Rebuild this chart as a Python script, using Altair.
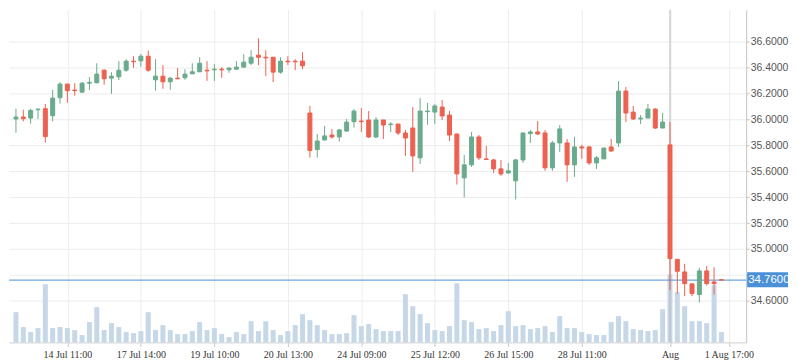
import altair as alt
import pandas as pd

# ---- data ----
opens = [36.003, 36.018, 36.010, 36.074, 36.082, 36.028, 36.167, 36.272, 36.226, 36.210,
         36.279, 36.282, 36.379, 36.318, 36.328, 36.379, 36.449, 36.451, 36.487, 36.305,
         36.333, 36.290, 36.318, 36.321, 36.351, 36.367, 36.379, 36.382, 36.387, 36.382,
         36.387, 36.403, 36.433, 36.495, 36.479, 36.479, 36.364, 36.449, 36.449, 36.449,
         36.049, 35.767, 35.841, 35.879, 35.864, 35.910, 35.982, 35.987, 35.995, 35.864,
         35.995, 35.959, 35.964, 35.895, 35.933, 35.703, 36.059, 36.056, 36.095, 36.033,
         35.887, 35.549, 35.649, 35.864, 35.695, 35.687, 35.618, 35.587, 35.526, 35.687,
         35.890, 35.903, 35.895, 35.626, 35.818, 35.818, 35.649, 35.787, 35.787, 35.664,
         35.695, 35.787, 35.818, 36.218, 36.056, 36.003, 36.010, 36.079, 35.933, 35.803,
         34.920, 34.823, 34.731, 34.649, 34.831, 34.746, 34.763]
highs = [36.082, 36.074, 36.082, 36.082, 36.118, 36.228, 36.287, 36.275, 36.279, 36.287,
         36.326, 36.433, 36.387, 36.364, 36.449, 36.464, 36.487, 36.503, 36.531, 36.464,
         36.418, 36.326, 36.395, 36.387, 36.433, 36.479, 36.449, 36.426, 36.403, 36.403,
         36.449, 36.503, 36.533, 36.626, 36.533, 36.482, 36.479, 36.487, 36.464, 36.518,
         36.103, 35.887, 35.949, 35.926, 35.926, 36.003, 36.079, 36.087, 36.064, 36.018,
         35.997, 35.979, 35.966, 35.918, 36.095, 36.164, 36.126, 36.118, 36.149, 36.064,
         35.889, 35.726, 35.903, 35.879, 35.795, 35.695, 35.687, 35.664, 35.695, 35.897,
         35.918, 35.987, 35.918, 35.833, 35.956, 35.849, 35.864, 35.803, 35.795, 35.718,
         35.779, 35.849, 36.295, 36.249, 36.103, 36.033, 36.118, 36.087, 36.049, 35.979,
         34.922, 34.885, 34.733, 34.854, 34.869, 34.859, 34.765]
lows = [35.897, 35.985, 35.967, 36.003, 35.821, 35.985, 36.121, 36.128, 36.182, 36.205,
        36.226, 36.279, 36.267, 36.197, 36.303, 36.367, 36.397, 36.405, 36.367, 36.221,
        36.236, 36.228, 36.313, 36.305, 36.351, 36.367, 36.297, 36.297, 36.321, 36.359,
        36.382, 36.397, 36.418, 36.418, 36.333, 36.287, 36.351, 36.418, 36.379, 36.387,
        35.705, 35.705, 35.836, 35.851, 35.828, 35.903, 35.936, 35.903, 35.856, 35.856,
        35.849, 35.903, 35.879, 35.718, 35.595, 35.656, 35.959, 35.964, 35.995, 35.833,
        35.497, 35.397, 35.633, 35.687, 35.690, 35.587, 35.564, 35.579, 35.382, 35.664,
        35.818, 35.879, 35.603, 35.603, 35.749, 35.518, 35.556, 35.695, 35.649, 35.618,
        35.695, 35.749, 35.787, 35.979, 35.995, 35.964, 36.010, 35.926, 35.933, 34.682,
        34.654, 34.636, 34.636, 34.587, 34.718, 34.649, 34.758]
closes = [36.018, 36.005, 36.069, 36.079, 35.867, 36.164, 36.272, 36.221, 36.221, 36.279,
          36.285, 36.349, 36.313, 36.333, 36.379, 36.449, 36.444, 36.487, 36.379, 36.333,
          36.290, 36.318, 36.313, 36.349, 36.367, 36.433, 36.374, 36.387, 36.382, 36.395,
          36.403, 36.441, 36.479, 36.479, 36.474, 36.364, 36.449, 36.444, 36.444, 36.413,
          35.759, 35.833, 35.872, 35.864, 35.918, 35.979, 36.064, 35.982, 35.864, 35.995,
          35.956, 35.964, 35.895, 35.856, 35.718, 36.064, 36.064, 36.103, 36.026, 35.879,
          35.579, 35.649, 35.864, 35.703, 35.690, 35.618, 35.579, 35.603, 35.687, 35.895,
          35.903, 35.887, 35.626, 35.818, 35.926, 35.649, 35.787, 35.779, 35.664, 35.703,
          35.779, 35.756, 36.218, 36.049, 36.003, 36.010, 36.079, 35.933, 35.979, 34.926,
          34.828, 34.733, 34.656, 34.831, 34.733, 34.733, 34.760]
volumes = [910, 460, 310, 430, 1750, 430, 460, 430, 370, 220,
           610, 1060, 370, 580, 460, 310, 280, 340, 910, 370,
           520, 370, 250, 250, 340, 610, 370, 430, 250, 160,
           310, 250, 640, 340, 640, 370, 220, 340, 520, 850,
           670, 520, 370, 250, 250, 280, 820, 490, 550, 400,
           340, 340, 340, 1450, 1090, 850, 580, 370, 340, 490,
           1780, 670, 610, 400, 430, 340, 520, 940, 490, 520,
           400, 430, 490, 310, 790, 430, 430, 310, 250, 220,
           220, 610, 790, 640, 400, 370, 340, 370, 1000, 2050,
           1510, 1090, 640, 640, 580, 1720, 310]

tick_positions = [7, 17, 27, 37, 47, 57, 67, 77, 89, 97]
tick_labels = ["14 Jul 11:00", "17 Jul 14:00", "19 Jul 10:00", "20 Jul 13:00",
               "24 Jul 09:00", "25 Jul 12:00", "26 Jul 15:00", "28 Jul 11:00",
               "Aug", "1 Aug 17:00"]
price_ticks = [34.6, 34.8, 35.0, 35.2, 35.4, 35.6, 35.8, 36.0, 36.2, 36.4, 36.6]
last_price = 34.76
marker_index = 89

GREEN = "#6aab8d"
RED = "#ec6150"
BLUE = "#4a90d9"

n = len(opens)
df = pd.DataFrame({
    "i": list(range(n)),
    "open": opens, "high": highs, "low": lows, "close": closes,
    "volume": volumes,
})
df["dir"] = ["up" if c >= o else "down" for o, c in zip(opens, closes)]

W, H = 740, 334
xscale = alt.Scale(domain=[-0.2675, 98.69], nice=False, zero=False)
yscale = alt.Scale(domain=[34.2796, 36.846], nice=False, zero=False)
vscale = alt.Scale(domain=[0, 10020], nice=False, zero=True)
cscale = alt.Scale(domain=["up", "down"], range=[GREEN, RED])

label_expr = " : ".join(f"datum.value == {p} ? '{l}'" for p, l in zip(tick_positions, tick_labels)) + " : ''"

xaxis = alt.Axis(values=tick_positions, labelExpr=label_expr, title=None,
                 grid=True, gridColor="#ececec", domainColor="#d0d0d0",
                 tickColor="#c8c8c8", tickSize=4, labelFont="Liberation Serif",
                 labelFontSize=10, labelColor="#333333", labelPadding=3,
                 labelFlush=False, labelOverlap=False)
yaxis = alt.Axis(orient="right", values=price_ticks, title=None,
                 labelExpr="abs(datum.value - 34.8) < 0.001 ? '' : format(datum.value, '.4f')",
                 grid=True, gridColor="#ececec", domainColor="#c4c4c4",
                 tickColor="#c4c4c4", tickSize=3, labelPadding=1,
                 labelFont="Liberation Sans", labelFontSize=10.5, labelColor="#555555",
                 labelFlush=False, labelOverlap=False)

x_enc = alt.X("i:Q", scale=xscale, axis=xaxis)

volume = alt.Chart(df).mark_bar(size=5, color="#c6d7e8").encode(
    x=x_enc,
    y=alt.Y("volume:Q", scale=vscale, axis=None),
)

marker = alt.Chart(pd.DataFrame({"i": [marker_index]})).mark_rule(
    color="#b8b8b8", strokeWidth=1).encode(x=x_enc)

lp = pd.DataFrame({"p": [last_price], "top": [last_price + 0.06], "bot": [last_price - 0.055]})

last_line = alt.Chart(lp).mark_rule(color=BLUE, strokeWidth=1).encode(
    y=alt.Y("p:Q", scale=yscale, axis=yaxis))

wicks = alt.Chart(df).mark_rule(strokeWidth=1).encode(
    x=x_enc,
    y=alt.Y("low:Q", scale=yscale, axis=yaxis),
    y2="high:Q",
    color=alt.Color("dir:N", scale=cscale, legend=None),
)
bodies = alt.Chart(df).mark_bar(size=4, strokeWidth=1).encode(
    x=x_enc,
    y=alt.Y("open:Q", scale=yscale, axis=yaxis),
    y2="close:Q",
    color=alt.Color("dir:N", scale=cscale, legend=None),
    stroke=alt.Stroke("dir:N", scale=cscale, legend=None),
)

box = alt.Chart(lp).mark_rect(color=BLUE).encode(
    x=alt.value(W + 1), x2=alt.value(W + 42),
    y=alt.Y("top:Q", scale=yscale, axis=yaxis), y2="bot:Q")
box_text = alt.Chart(lp).mark_text(align="left", baseline="middle", color="white",
                                   font="Liberation Sans", fontSize=11.5).encode(
    x=alt.value(W + 2),
    y=alt.Y("p:Q", scale=yscale, axis=yaxis),
    text=alt.Text("p:Q", format=".4f"))

price = alt.layer(marker, last_line, wicks, bodies, box, box_text)

chart = alt.layer(volume, price).resolve_scale(y="independent").properties(
    width=W, height=H, padding={"left": 0, "top": 0, "right": 0, "bottom": 0},
    background="white",
).configure_view(strokeWidth=0)

chart.save("out.html", embed_options={"renderer": "svg", "actions": False})
